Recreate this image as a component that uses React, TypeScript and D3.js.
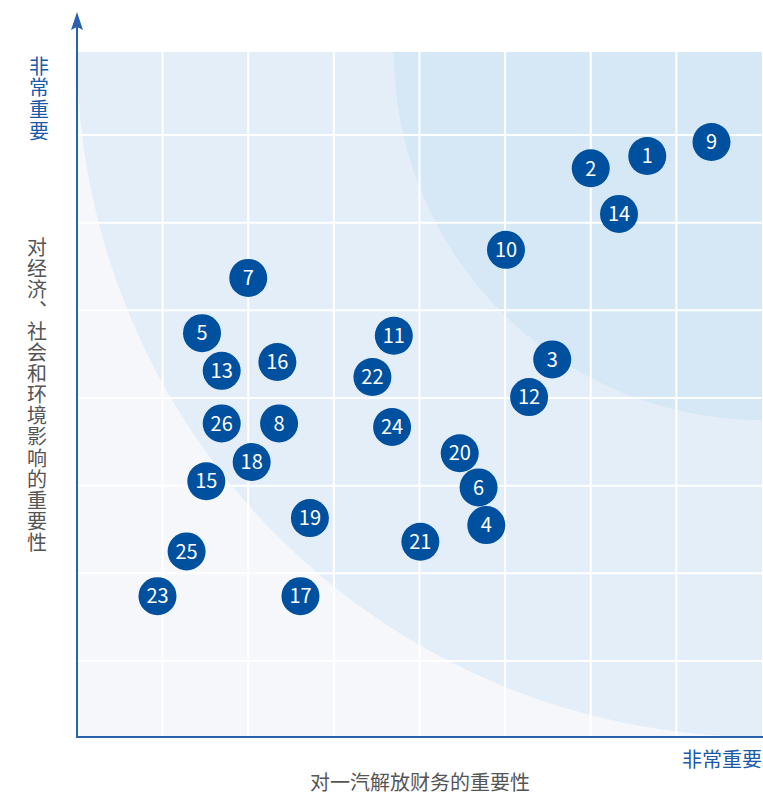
import React from 'react';
import * as d3 from 'd3';

// issue number, x = importance to FAW finance, y = ESG impact importance
const issueIds = [1, 2, 3, 4, 5, 6, 7, 8, 9, 10, 11, 12, 13, 14, 15, 16, 17, 18, 19, 20, 21, 22, 23, 24, 25, 26];
const financeScore = [6.66, 6.0, 5.55, 4.78, 1.46, 4.69, 2.0, 2.36, 7.41, 5.01, 3.7, 5.28, 1.69, 6.33, 1.51, 2.34, 2.61, 2.04, 2.72, 4.47, 4.01, 3.45, 0.94, 3.68, 1.28, 1.69];
const impactScore = [6.76, 6.62, 4.44, 2.55, 4.74, 2.98, 5.37, 3.71, 6.92, 5.69, 4.71, 4.01, 4.31, 6.1, 3.05, 4.41, 1.74, 3.27, 2.63, 3.37, 2.36, 4.24, 1.74, 3.67, 2.25, 3.71];

const gridTicks = [1, 2, 3, 4, 5, 6, 7];
// zone radii measured from the top-right corner, in x units
const zoneRadii = [8, 4.3];
const zoneColors = ['#e4eef8', '#d6e8f5'];

const yTitle = '对经济、社会和环境影响的重要性';
const xTitle = '对一汽解放财务的重要性';
const highLabel = '非常重要';

export default function App() {
    const width = 763;
    const height = 796;
    const left = 77;
    const right = 762;
    const top = 52;
    const bottom = 737;

    const x = d3.scaleLinear().domain([0, 8]).range([left, right]);
    const y = d3.scaleLinear().domain([1, 7]).range([661, 135]);
    const unit = x(1) - x(0);

    const points = issueIds.map((id, i) => ({ id, fx: financeScore[i], iy: impactScore[i] }));

    const font = '"Noto Sans CJK SC", "Noto Sans", sans-serif';
    const blue = '#1c5aa8';
    const grey = '#555';
    const vertical = { writingMode: 'vertical-rl', textOrientation: 'upright' } as React.CSSProperties;

    return (
        <svg width={width} height={height} style={{ position: 'absolute', left: 0, top: 0, background: '#fff' }}>
            <defs>
                <clipPath id="plot">
                    <rect x={left} y={top} width={right - left} height={bottom - top} />
                </clipPath>
            </defs>
            <rect x={left} y={top} width={right - left} height={bottom - top} fill="#f5f7fb" />
            <g clipPath="url(#plot)">
                {zoneRadii.map((r, i) => (
                    <circle key={i} cx={right} cy={top} r={r * unit} fill={zoneColors[i]} />
                ))}
            </g>
            {gridTicks.map(t => (
                <line key={'v' + t} x1={x(t)} x2={x(t)} y1={top} y2={bottom} stroke="#fff" strokeWidth={2} />
            ))}
            {gridTicks.map(t => (
                <line key={'h' + t} x1={left} x2={right} y1={y(t)} y2={y(t)} stroke="#fff" strokeWidth={2} />
            ))}

            {/* axes */}
            <line x1={left} x2={left} y1={24} y2={bottom} stroke="#2a62ad" strokeWidth={2} />
            <line x1={left - 1} x2={right + 1} y1={bottom} y2={bottom} stroke="#2a62ad" strokeWidth={2} />
            <path d={`M${left} 12 L${left + 6} 30 L${left} 27 L${left - 6} 30 Z`} fill="#2a62ad" />

            {points.map(p => (
                <g key={p.id} transform={`translate(${x(p.fx)},${y(p.iy)})`}>
                    <circle r={19} fill="#0050a0" />
                    <text textAnchor="middle" dy="0.36em" fill="#fff" fontSize={20} fontFamily={font}>{p.id}</text>
                </g>
            ))}

            <text x={39} y={56} style={vertical} letterSpacing={1.7} fill={blue} fontSize={20} fontFamily={font}>{highLabel}</text>
            <text x={37} y={237} style={vertical} letterSpacing={1.1} fill={grey} fontSize={20} fontFamily={font}>{yTitle}</text>
            <text x={right} y={760} dy="0.36em" textAnchor="end" fill={blue} fontSize={20} fontFamily={font}>{highLabel}</text>
            <text x={420} y={783} dy="0.36em" textAnchor="middle" fill={grey} fontSize={20} fontFamily={font}>{xTitle}</text>
        </svg>
    );
}
